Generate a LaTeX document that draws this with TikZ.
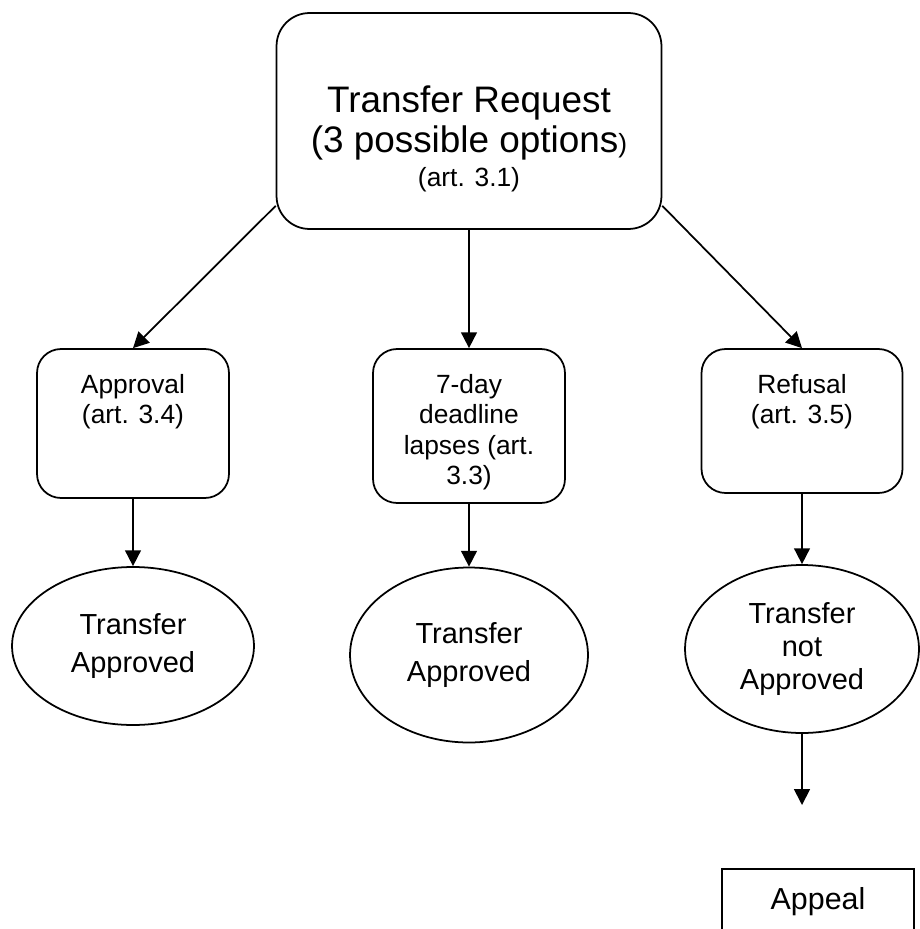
\documentclass[tikz,border=0pt]{standalone}
\usepackage{fontspec}
\setmainfont{Liberation Sans}
\usetikzlibrary{shapes.geometric, arrows.meta}

\tikzset{
    flowbox/.style={draw=black, line width=1pt, rounded corners=0.48cm, inner sep=0pt},
    endnode/.style={draw=black, line width=1pt, ellipse, inner sep=0pt, align=center},
    flowarrow/.style={black, line width=1pt, -{Triangle[length=9pt, width=9pt]}},
    boxtext/.style={anchor=north, inner sep=0pt, align=center, font=\fontsize{15}{17.3}\selectfont}
}

\begin{document}
\begin{tikzpicture}[x=0.02cm, y=-0.02cm]
        \useasboundingbox (0,0) rectangle (919,929);

        % request
        \node[flowbox, rounded corners=0.66cm, minimum width=7.7cm, minimum height=4.32cm] (request) at (469,121) {};
        \node[boxtext, font=\fontsize{21}{23.2}\selectfont] (requesttext) at (469,85)
        {Transfer Request\\(3 possible options{\fontsize{15}{17.3}\selectfont)}\\[-3.9pt]{\fontsize{15}{17.3}\selectfont (art. 3.1)}};

        %%%%%%%%%%%%%%%%%%%%%%%%%%%%%%
        \node[flowbox, minimum width=3.84cm, minimum height=2.98cm] (approval) at (133,423.5) {};
        \node[boxtext] (approvaltext) at (133,374) {Approval\\(art. 3.4)};
        \node[flowbox, minimum width=3.84cm, minimum height=3.08cm] (lapse) at (469,426) {};
        \node[boxtext] (lapsetext) at (469,374) {7-day\\deadline\\lapses (art.\\3.3)};
        \node[flowbox, minimum width=4.02cm, minimum height=2.88cm] (refusal) at (802,421) {};
        \node[boxtext] (refusaltext) at (802,374) {Refusal\\(art. 3.5)};

        %%%%%%%%%%%%%%%%%%%%%%%%%%%%%%
        \node[endnode, minimum width=4.84cm, minimum height=3.16cm, font=\fontsize{16.5}{22}\selectfont] (approvedA) at (133,646) {Transfer\\Approved};
        \node[endnode, minimum width=4.76cm, minimum height=3.5cm, font=\fontsize{16.5}{22}\selectfont] (approvedB) at (469,655) {Transfer\\Approved};
        \node[endnode, minimum width=4.68cm, minimum height=3.36cm, font=\fontsize{16.5}{19}\selectfont] (refused) at (802,649) {Transfer\\not\\Approved};

        \node[draw=black, line width=1pt, minimum width=3.84cm, minimum height=1.32cm, inner sep=0pt, font=\fontsize{17.3}{20}\selectfont] (appeal) at (818,902) {Appeal};
        \coordinate (appealin) at (802,805);

        %%%%%%%%%%%%%%%%%%%%%%%%%%%%%%
        \draw[flowarrow] ([yshift=0.48cm]request.south west) -- (approval.north);
        \draw[flowarrow] (request.south) -- (lapse.north);
        \draw[flowarrow] ([yshift=0.48cm]request.south east) -- (refusal.north);
        \draw[flowarrow] (approval.south) -- (approvedA.north);
        \draw[flowarrow] (lapse.south) -- (approvedB.north);
        \draw[flowarrow] (refusal.south) -- (refused.north);
        \draw[flowarrow] (refused.south) -- (appealin);
    \end{tikzpicture}
\end{document}
